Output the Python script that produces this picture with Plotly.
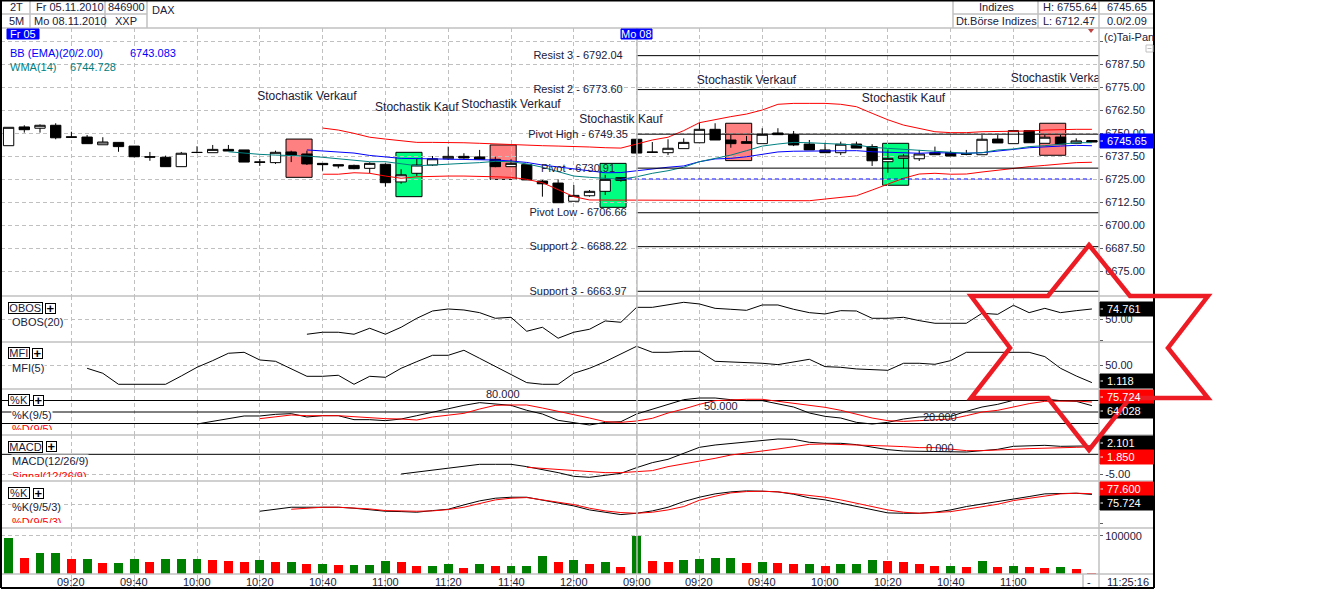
import plotly.graph_objects as go

# --- data ---
opens = [6743.1, 6753.3, 6752.6, 6754.2, 6747.9, 6747.8, 6743.6, 6744.9, 6742.9, 6737.1,
         6736.8, 6731.7, 6739.5, 6739.3, 6741.1, 6740.8, 6734.3, 6733.9, 6739.7, 6738.6,
         6733.5, 6732.8, 6732.4, 6730.8, 6733.0, 6723.4, 6728.1, 6732.6, 6736.0, 6737.3,
         6737.0, 6735.7, 6731.7, 6732.8, 6723.9, 6722.8, 6712.9, 6715.9, 6718.3, 6725.7,
         6746.6, 6739.7, 6739.3, 6741.5, 6744.7, 6752.0, 6746.2, 6745.3, 6744.2, 6750.0,
         6749.1, 6744.0, 6740.8, 6739.3, 6744.0, 6742.6, 6734.4, 6736.2, 6736.0, 6739.3,
         6739.3, 6738.7, 6738.2, 6746.7, 6744.2, 6751.3, 6744.4, 6747.8, 6744.4, 6745.9]
highs = [6753.1, 6754.2, 6754.7, 6755.3, 6750.7, 6748.9, 6747.7, 6744.9, 6742.9, 6739.7,
         6737.7, 6739.7, 6742.8, 6743.5, 6743.5, 6740.8, 6735.9, 6740.4, 6740.4, 6740.4,
         6733.5, 6732.8, 6732.8, 6734.1, 6733.5, 6730.3, 6736.2, 6737.5, 6742.6, 6739.0,
         6740.8, 6737.1, 6735.7, 6732.8, 6724.5, 6724.8, 6721.7, 6719.0, 6727.3, 6725.7,
         6747.1, 6745.1, 6746.6, 6747.1, 6755.6, 6755.3, 6748.9, 6748.4, 6752.6, 6752.6,
         6751.1, 6746.2, 6744.7, 6745.3, 6745.3, 6743.9, 6741.1, 6738.6, 6740.8, 6742.6,
         6740.4, 6740.8, 6748.9, 6748.9, 6751.3, 6751.3, 6748.9, 6748.9, 6747.1, 6745.9]
lows = [6743.1, 6750.2, 6750.2, 6746.6, 6747.4, 6744.2, 6743.6, 6739.8, 6736.8, 6734.9,
        6731.7, 6731.7, 6739.0, 6739.3, 6740.2, 6734.2, 6732.1, 6733.2, 6734.2, 6732.6,
        6729.5, 6730.8, 6730.3, 6728.1, 6720.8, 6722.4, 6726.6, 6732.1, 6735.3, 6736.0,
        6735.7, 6731.4, 6731.7, 6724.5, 6715.4, 6712.1, 6712.9, 6715.4, 6716.3, 6723.5,
        6738.2, 6739.4, 6738.0, 6741.5, 6744.7, 6746.2, 6742.0, 6744.4, 6744.2, 6749.1,
        6742.9, 6740.8, 6739.3, 6738.0, 6741.8, 6732.1, 6728.4, 6730.8, 6734.8, 6738.2,
        6737.5, 6737.9, 6738.2, 6744.6, 6744.2, 6744.7, 6744.4, 6744.0, 6744.4, 6745.1]
closes = [6753.1, 6751.8, 6754.2, 6747.4, 6747.7, 6744.2, 6745.1, 6742.6, 6737.1, 6736.9,
          6731.7, 6739.0, 6739.4, 6741.1, 6740.2, 6734.2, 6734.1, 6739.5, 6737.9, 6733.2,
          6732.8, 6732.1, 6730.6, 6733.5, 6723.0, 6727.3, 6732.6, 6736.0, 6737.3, 6736.4,
          6735.7, 6731.7, 6733.5, 6724.5, 6722.4, 6712.1, 6716.1, 6718.3, 6724.8, 6724.3,
          6739.1, 6739.5, 6741.7, 6744.9, 6752.0, 6746.2, 6744.2, 6744.4, 6749.3, 6749.1,
          6743.5, 6740.8, 6739.3, 6743.9, 6741.8, 6734.9, 6736.2, 6737.5, 6738.6, 6738.2,
          6737.5, 6738.5, 6746.6, 6744.6, 6751.3, 6744.7, 6747.7, 6744.0, 6745.7, 6745.1]

bb_upper = [6752.7, 6751.6, 6749.8, 6747.7, 6746.7, 6746.0, 6744.9, 6744.9, 6744.9, 6744.7,
            6744.4, 6744.0, 6744.0, 6743.6, 6743.1, 6742.9, 6742.8, 6742.4, 6742.0, 6741.8,
            6744.0, 6746.2, 6747.7, 6751.3, 6755.6, 6757.4, 6758.9, 6760.3, 6762.5, 6765.6,
            6766.1, 6766.1, 6766.1, 6765.6, 6764.3, 6760.7, 6757.2, 6754.3, 6752.6, 6750.7,
            6750.2, 6750.2, 6750.7, 6750.7, 6750.7, 6751.1, 6751.6, 6752.0, 6752.0, 6752.0]
bb_mid = [6740.8, 6740.2, 6739.7, 6739.1, 6737.8, 6737.0, 6736.2, 6736.1, 6736.0, 6735.9,
          6735.7, 6735.5, 6735.3, 6734.8, 6734.0, 6732.6, 6731.5, 6730.3, 6729.3, 6728.4,
          6728.5, 6729.6, 6730.4, 6731.4, 6732.1, 6734.4, 6735.9, 6736.2, 6737.1, 6738.6,
          6739.7, 6740.1, 6740.2, 6740.2, 6740.4, 6740.4, 6739.8, 6739.5, 6739.1, 6739.0,
          6739.3, 6739.0, 6739.0, 6739.3, 6740.4, 6741.1, 6742.0, 6742.6, 6742.9, 6743.3,
          6743.08]
bb_lower = [6727.6, 6727.6, 6728.4, 6728.1, 6726.6, 6725.4, 6726.2, 6726.6, 6726.6, 6726.6,
            6726.2, 6726.2, 6725.9, 6724.8, 6723.0, 6719.0, 6715.4, 6713.6, 6713.6, 6713.6,
            6713.6, 6713.6, 6713.6, 6713.6, 6713.2, 6713.2, 6713.2, 6713.2, 6713.2, 6713.2,
            6713.2, 6713.2, 6714.1, 6715.0, 6715.9, 6719.0, 6722.3, 6725.4, 6727.7, 6728.1,
            6727.6, 6727.7, 6728.8, 6729.9, 6730.8, 6731.7, 6732.4, 6733.2, 6733.9, 6734.1]
wma = [6739.8, 6739.0, 6738.4, 6738.0, 6737.9, 6737.5, 6736.8, 6735.9, 6735.3, 6734.4,
       6734.4, 6733.5, 6732.2, 6732.6, 6733.2, 6733.5, 6733.9, 6734.6, 6734.4, 6733.2,
       6731.4, 6729.0, 6726.6, 6725.9, 6725.2, 6724.8, 6726.2, 6728.1, 6729.5, 6731.4,
       6734.4, 6736.2, 6738.0, 6740.4, 6742.9, 6744.0, 6744.9, 6744.7, 6744.4, 6744.0,
       6743.5, 6742.2, 6741.7, 6740.8, 6740.4, 6739.8, 6739.3, 6739.0, 6739.3, 6740.8,
       6741.3, 6742.6, 6743.1, 6744.0, 6744.7, 6744.73]

obos = [13.9, 18.7, 18.7, 13.9, 28.3, 13.9, 30.7, 52.3, 69.9, 74.7, 72.3, 65.9, 52.3, 54.7,
        21.1, 30.7, 4.3, 18.7, 25.9, 45.9, 42.7, 78.7, 78.7, 84.4, 90.8, 86.8, 76.3, 74.0,
        71.5, 84.4, 84.4, 74.0, 65.9, 62.7, 70.7, 69.9, 52.3, 52.3, 54.7, 46.7, 40.3, 40.3,
        40.3, 64.3, 61.9, 83.6, 65.9, 76.3, 65.9, 70.7, 74.76]
mfi = [42.1, 29.0, 0, 0, 0, 0, 21.9, 44.7, 62.3, 81.6, 84.2, 64.0, 60.5, 40.4, 21.0, 21.0,
       23.7, 0, 21.0, 18.4, 42.1, 59.6, 76.3, 76.3, 89.5, 68.4, 46.5, 26.3, 4.4, 0, 0, 29.0,
       42.1, 59.6, 79.8, 100, 84.2, 84.2, 86.8, 86.8, 60.5, 58.8, 57.9, 55.3, 51.8, 58.8,
       65.8, 46.5, 44.7, 40.4, 37.7, 36.8, 55.3, 55.3, 52.6, 62.3, 84.2, 84.2, 84.2, 84.2,
       84.2, 72.8, 42.1, 21.9, 4.4]
k_fast = [18.7, 25.6, 34.3, 39.6, 39.6, 43.9, 45.7, 37.0, 40.4, 40.4, 30.0, 30.0, 27.4, 31.7,
          40.4, 50.0, 57.8, 67.4, 74.4, 70.9, 67.4, 54.4, 44.8, 28.3, 21.3, 16.1, 23.0, 24.8,
          44.8, 57.8, 70.9, 82.2, 86.5, 86.5, 82.2, 79.6, 79.6, 71.8, 63.0, 47.4, 38.7, 34.3,
          23.0, 18.7, 23.0, 31.7, 37.0, 38.7, 38.7, 51.7, 63.0, 70.0, 80.5, 82.2, 83.9, 79.6,
          77.8, 66.5]
d_fast = [32.6, 37.0, 42.2, 40.4, 40.4, 40.4, 37.8, 34.3, 32.6, 31.7, 29.1, 37.0, 42.2, 46.5,
          57.8, 67.4, 68.3, 68.3, 60.4, 50.9, 43.0, 34.3, 24.8, 23.0, 26.5, 33.5, 47.4, 57.8,
          70.0, 79.6, 82.2, 83.1, 83.1, 77.8, 71.8, 67.4, 62.2, 54.4, 44.8, 34.3, 27.4, 25.6,
          27.4, 30.0, 31.7, 40.4, 50.0, 54.4, 63.0, 71.8, 77.8, 78.7, 78.7, 76.0]
macd = [-4.92, -4.42, -4.0, -3.33, -2.83, -2.5, -2.5, -2.5, -3.08, -3.75, -4.58, -5.5, -5.75,
        -5.25, -4.75, -3.33, -2.08, -1.25, 0.25, 1.75, 2.33, 2.75, 3.17, 3.58, 3.83, 3.75,
        3.0, 2.75, 2.75, 2.42, 1.75, 1.17, 0.83, 0.75, 0.75, 0.75, 0.58, 0.92, 1.25, 2.0,
        2.08, 2.25, 2.0, 2.0, 2.1]
signal = [-3.25, -3.5, -3.75, -4.17, -4.25, -4.58, -4.58, -4.25, -4.08, -3.08, -2.42, -1.67,
          -1.0, -0.17, 0.25, 0.83, 1.33, 1.92, 2.5, 2.58, 2.5, 2.42, 2.17, 2.08, 1.92, 1.67,
          1.67, 1.25, 0.92, 0.92, 1.0, 1.25, 1.42, 1.58, 1.75, 1.75, 1.85]
k_slow = [31.6, 37.7, 42.1, 42.1, 42.1, 42.1, 39.5, 36.0, 31.6, 30.7, 29.0, 33.3, 36.8, 48.2,
          58.8, 65.8, 68.4, 68.4, 61.4, 54.4, 45.6, 35.1, 28.1, 22.8, 26.3, 32.5, 42.1, 57.0,
          68.4, 77.2, 82.4, 85.1, 84.2, 82.4, 76.3, 66.7, 61.4, 52.6, 43.9, 35.1, 27.2, 26.3,
          26.3, 29.0, 35.1, 43.9, 50.0, 57.0, 63.2, 70.2, 77.2, 78.9, 78.9, 75.7]
d_slow = [36.8, 40.4, 42.1, 42.1, 40.4, 37.7, 33.3, 31.6, 31.6, 32.5, 36.0, 42.1, 52.6, 61.4,
          65.8, 67.5, 61.4, 54.4, 49.1, 39.5, 32.5, 28.1, 26.3, 29.0, 35.1, 43.9, 60.5, 71.0,
          79.8, 83.3, 84.2, 82.4, 78.1, 73.7, 68.4, 61.4, 52.6, 43.9, 35.1, 29.0, 26.3, 28.1,
          30.7, 36.8, 43.9, 50.0, 59.6, 65.8, 72.8, 77.2, 78.9, 77.6]
volumes = [93900, 41700, 54800, 54800, 39100, 39100, 28700, 28700, 39100, 31300,
           39100, 39100, 39100, 36500, 33900, 31300, 36500, 31300, 31300, 26100,
           26100, 23500, 23500, 23500, 33900, 31300, 20900, 20900, 26100, 15700,
           26100, 20900, 20900, 20900, 47000, 31300, 36500, 26100, 31300, 18300,
           100000, 33900, 31300, 36500, 39100, 41700, 41700, 28700, 31300, 28700,
           26100, 26100, 20900, 26100, 26100, 36500, 33900, 31300, 26100, 20900,
           20900, 18300, 33900, 18300, 20900, 18300, 15700, 18300, 13000, 2600]
volume_sides = "grggrgrggrgggrrrgrgrgrgggrrggrgrgggrgrgrgrrggggrgrrgrgggrrrrgrgrgrrgrr"

signal_bars = [19, 26, 32, 39, 47, 57, 67]
signal_kinds = ["Stochastik Verkauf", "Stochastik Kauf", "Stochastik Verkauf", "Stochastik Kauf",
                "Stochastik Verkauf", "Stochastik Kauf", "Stochastik Verkauf"]
signal_text_y = [6769.5, 6763.5, 6765.2, 6757.0, 6778.2, 6768.4, 6779.3]
signal_box_hi = [6746.7, 6739.5, 6743.5, 6733.5, 6755.3, 6744.4, 6755.3]
signal_box_lo = [6725.9, 6715.4, 6724.8, 6709.6, 6735.0, 6721.6, 6737.9]

pivot_names = ["Resist 3", "Resist 2", "Pivot High", "Pivot", "Pivot Low", "Support 2", "Support 3"]
pivot_values = [6792.04, 6773.60, 6749.35, 6730.91, 6706.66, 6688.22, 6663.97]

time_bars = [4, 8, 12, 16, 20, 24, 28, 32, 36, 40, 44, 48, 52, 56, 60, 64]
time_labels = ["09:20", "09:40", "10:00", "10:20", "10:40", "11:00", "11:20", "11:40", "12:00",
               "09:00", "09:20", "09:40", "10:00", "10:20", "10:40", "11:00"]
price_ticks = [6675, 6687.5, 6700, 6712.5, 6725, 6737.5, 6750, 6762.5, 6775, 6787.5, 6800]

# panel limits in pixels of the 1323x589 page
W, H = 1323, 589
PANELS = [28, 296, 342, 389, 435, 481, 528, 574]
LEFT, AXIS, RIGHT = 1, 1099, 1154
GRID = "#c0c0c0"
TEXT = "#20203a"
FONT = "Liberation Sans"


def xp(px):
    return px / W


def yp(px):
    return 1 - px / H


def from_bar(values, start):
    return list(range(start, start + len(values))), values


def line(values, start, color, yaxis="y"):
    x, y = from_bar(values, start)
    return go.Scatter(x=x, y=y, mode="lines", line={"color": color, "width": 1}, yaxis=yaxis,
                      hoverinfo="skip")


n_bars = len(closes)
fig = go.Figure()

fig.add_trace(go.Candlestick(
    x=list(range(n_bars)), open=opens, high=highs, low=lows, close=closes,
    whiskerwidth=0,
    increasing={"line": {"color": "black", "width": 1}, "fillcolor": "white"},
    decreasing={"line": {"color": "black", "width": 1}, "fillcolor": "black"},
))
fig.add_trace(line(bb_upper, 20, "#ff0000"))
fig.add_trace(line(bb_lower, 20, "#ff0000"))
fig.add_trace(line(bb_mid, 19, "#0000ff"))
fig.add_trace(line(wma, 14, "#008080"))

for value in pivot_values:
    fig.add_trace(go.Scatter(x=[40, 69.45], y=[value, value], mode="lines",
                             line={"color": "black", "width": 1}, hoverinfo="skip"))
fig.add_trace(go.Scatter(x=[39, 69], y=[6725, 6725], mode="lines",
                         line={"color": "#0000ff", "width": 1, "dash": "4px,3px"}, hoverinfo="skip"))

fig.add_trace(go.Scatter(
    x=[36.27] * len(pivot_values), y=[v - 0.5 for v in pivot_values], mode="text",
    text=[f"{n} - {v:.2f}" for n, v in zip(pivot_names, pivot_values)],
    textposition="middle center", textfont={"family": FONT, "size": 11, "color": TEXT},
    cliponaxis=True, hoverinfo="skip",
))
fig.add_trace(go.Scatter(
    x=signal_bars, y=signal_text_y, mode="text", text=signal_kinds,
    textposition="middle center", textfont={"family": FONT, "size": 12, "color": TEXT},
    cliponaxis=True, hoverinfo="skip",
))

fig.add_trace(line(obos, 19, "black", "y2"))
fig.add_trace(line(mfi, 5, "black", "y3"))

for level in [80, 50, 20]:
    fig.add_trace(go.Scatter(x=[-0.48, 69.45], y=[level, level], mode="lines", yaxis="y4",
                             line={"color": "black", "width": 1}, hoverinfo="skip"))
fig.add_trace(line(k_fast, 12, "black", "y4"))
fig.add_trace(line(d_fast, 16, "#ff0000", "y4"))

fig.add_trace(go.Scatter(x=[-0.48, 69.45], y=[0, 0], mode="lines", yaxis="y5",
                         line={"color": "black", "width": 1}, hoverinfo="skip"))
fig.add_trace(line(macd, 25, "black", "y5"))
fig.add_trace(line(signal, 33, "#ff0000", "y5"))

fig.add_trace(line(k_slow, 16, "black", "y6"))
fig.add_trace(line(d_slow, 18, "#ff0000", "y6"))

fig.add_trace(go.Bar(
    x=list(range(n_bars)), y=volumes, yaxis="y7", width=0.57,
    marker={"color": ["#008000" if s == "g" else "#ff0000" for s in volume_sides], "line": {"width": 0}},
    hoverinfo="skip",
))


def y_axis(panel, rng, ticks, labels=None, minor=None):
    axis = {
        "domain": [yp(PANELS[panel + 1]), yp(PANELS[panel])],
        "range": rng,
        "anchor": "x",
        "side": "right",
        "tickmode": "array",
        "tickvals": ticks,
        "ticktext": labels if labels is not None else ["" for _ in ticks],
        "ticks": "outside" if ticks else "",
        "ticklen": 3,
        "tickcolor": "#606060",
        "tickfont": {"family": FONT, "size": 11, "color": TEXT},
        "showgrid": True,
        "gridcolor": GRID,
        "griddash": "4px,3px",
        "gridwidth": 1,
        "zeroline": False,
        "showline": False,
    }
    if minor:
        axis["minor"] = {"tickmode": "array", "tickvals": minor, "ticks": "outside", "ticklen": 3,
                         "tickcolor": "#606060", "showgrid": False}
    return axis


# ----- chrome: header cells, separators, value boxes, star -----
shapes = []


def hline(y, x0=LEFT, x1=RIGHT, color=GRID, width=1.5):
    shapes.append({"type": "line", "xref": "paper", "yref": "paper", "x0": xp(x0), "x1": xp(x1),
                   "y0": yp(y), "y1": yp(y), "line": {"color": color, "width": width}})


def vline(x, y0, y1, color=GRID, width=1.5):
    shapes.append({"type": "line", "xref": "paper", "yref": "paper", "x0": xp(x), "x1": xp(x),
                   "y0": yp(y0), "y1": yp(y1), "line": {"color": color, "width": width}})


def rect(x0, y0, x1, y1, fill, border=None):
    shapes.append({"type": "rect", "xref": "paper", "yref": "paper", "x0": xp(x0), "x1": xp(x1),
                   "y0": yp(y0), "y1": yp(y1), "fillcolor": fill,
                   "line": {"color": border or fill, "width": 1}})


# signal boxes sit under the candles
for bar, hi, lo, kind in zip(signal_bars, signal_box_hi, signal_box_lo, signal_kinds):
    shapes.append({"type": "rect", "xref": "x", "yref": "y", "x0": bar - 1.33, "x1": bar + 0.33,
                   "y0": lo, "y1": hi, "layer": "below",
                   "fillcolor": "#ff8080" if "Verkauf" in kind else "#00ff80",
                   "line": {"color": "black", "width": 1}})

for y in PANELS[1:]:
    hline(y)
hline(14, LEFT, 147)
hline(14, 953, AXIS + 55)
hline(28)
vline(30, 0, 28)
vline(105, 0, 28)
vline(147, 0, 28)
vline(953, 0, 28)
vline(1038, 0, 28)
vline(AXIS, 0, 588)
vline(637, 28, 574)
vline(1083, 574, 588)
hline(0.5, color="black", width=2)
hline(588, color="black", width=2)
vline(1, 0, 588, color="black", width=2)
vline(RIGHT, 0, 588, color="black", width=2)

rect(7, 29, 39, 39, "#0000ff")
rect(621, 29, 652, 39, "#0000ff")
rect(1146, 45, 1153, 52, "white", GRID)
hline(48.5, 1147.5, 1151.5, color=GRID, width=1)

value_boxes = [("6745.65", "#0000ff", 134), ("74.761", "black", 302), ("1.118", "black", 374),
               ("75.724", "#ff0000", 390), ("64.028", "black", 404), ("2.101", "black", 436),
               ("1.850", "#ff0000", 450), ("77.600", "#ff0000", 482), ("75.724", "black", 496)]
for _, color, top in value_boxes:
    rect(1100, top, RIGHT - 0.5, top + 14, color)
    hline(top + 7, 1100.5, 1103, color="white", width=1)

star = [(1089, 245), (1130, 296), (1208, 296), (1168, 348), (1208, 398), (1130, 398),
        (1089, 450), (1048, 398), (971, 398), (1010, 348), (971, 296), (1048, 296)]
path = "M " + " L ".join(f"{xp(x):.5f} {yp(y):.5f}" for x, y in star) + " Z"
shapes.append({"type": "path", "xref": "paper", "yref": "paper", "path": path,
               "line": {"color": "#ed1c24", "width": 4.5}})
marker_tri = [(1088, 29), (1094, 29), (1091, 33)]
shapes.append({"type": "path", "xref": "paper", "yref": "paper", "fillcolor": "#c04040",
               "path": "M " + " L ".join(f"{xp(x):.5f} {yp(y):.5f}" for x, y in marker_tri) + " Z",
               "line": {"width": 0}})

annotations = []


def label(text, x, y, color=TEXT, size=11, anchor="left", **kw):
    annotations.append({"text": text, "xref": "paper", "yref": "paper", "x": xp(x), "y": yp(y),
                        "xanchor": anchor, "yanchor": "middle", "showarrow": False,
                        "font": {"family": FONT, "size": size, "color": color}, **kw})


# header
label("2T", 16, 7, anchor="center")
label("5M", 16, 21, anchor="center")
label("Fr 05.11.2010", 34, 7)
label("Mo 08.11.2010", 32, 21)
label("846900", 126, 7, anchor="center")
label("XXP", 126, 21, anchor="center")
label("DAX", 150, 10)
label("Indizes", 996, 7, anchor="center")
label("Dt.Börse Indizes", 996, 21, anchor="center")
label("H: 6755.64", 1041, 7)
label("L: 6712.47", 1041, 21)
label("6745.65", 1105, 7)
label("0.0/2.09", 1105, 21)
label("(c)Tai-Pan", 1102, 37)
label("Fr 05", 23, 34, color="white", anchor="center")
label("Mo 08", 636, 34, color="white", anchor="center")

# indicator names
label("BB (EMA)(20/2.00)", 8, 53, color="#0000ff")
label("6743.083", 128, 53, color="#0000ff")
label("WMA(14)", 8, 67, color="#008080")
label("6744.728", 68, 67, color="#008080")
for name, x1, top in [("OBOS", 42.5, 302), ("MFI", 29.5, 347), ("%K", 30, 394),
                      ("MACD", 43, 441), ("%K", 30, 487)]:
    label(name, (8 + x1) / 2, top + 6, anchor="center", bgcolor="white", bordercolor="black",
          borderwidth=1, width=x1 - 10, height=10, borderpad=0)
    label("<b>+</b>", x1 + 8, top + 6, color="black", size=13, anchor="center", bgcolor="white",
          bordercolor="black", borderwidth=1, width=9, height=9, borderpad=0)
label("OBOS(20)", 11, 322, bgcolor="white", borderpad=0)
label("MFI(5)", 11, 368, bgcolor="white", borderpad=0)
label("%K(9/5)", 11, 415, bgcolor="white", borderpad=0)
label("MACD(12/26/9)", 11, 461, bgcolor="white", borderpad=0)
label("%K(9/5/3)", 11, 507, bgcolor="white", borderpad=0)
# the red names are cut off by the pane in the original, a short text box clips them
label("%D(9/5)", 11, 426.5, color="#ff0000", height=7, valign="top", borderpad=0)
label("Signal(12/26/9)", 11, 473.5, color="#ff0000", height=7, valign="top", borderpad=0)
label("%D(9/5/3)", 11, 519.5, color="#ff0000", height=7, valign="top", borderpad=0)

# last values
for text, _, top in value_boxes:
    label(text, 1105, top + 7, color="white")

# time axis text, the grid line runs through the colon
for bar, text in zip(time_bars, time_labels):
    annotations.append({"text": text, "xref": "x", "yref": "paper", "x": bar, "y": yp(582),
                        "xanchor": "center", "yanchor": "middle", "showarrow": False,
                        "font": {"family": FONT, "size": 11, "color": TEXT}})
label("-", 1089, 582, anchor="center")
label("11:25:16", 1105, 582)

# level captions in the %K and MACD panes
for text, x, y, ref in [("80.000", 31.5, 97, "y4"), ("50.000", 45.4, 65.7, "y4"),
                        ("20.000", 59.3, 37, "y4"), ("0.000", 59.3, 1.6, "y5")]:
    annotations.append({"text": text, "xref": "x", "yref": ref, "x": x, "y": y,
                        "xanchor": "center", "yanchor": "middle", "showarrow": False,
                        "font": {"family": FONT, "size": 11, "color": TEXT}})

fig.update_layout(
    width=W,
    height=H,
    margin={"l": 0, "r": 0, "t": 0, "b": 0},
    autosize=False,
    showlegend=False,
    plot_bgcolor="white",
    paper_bgcolor="white",
    bargap=0,
    boxgap=0.06,
    hovermode=False,
    shapes=shapes,
    annotations=annotations,
    xaxis={
        "domain": [xp(LEFT), xp(AXIS)],
        "range": [-0.484, 69.45],
        "anchor": "y7",
        "rangeslider": {"visible": False},
        "tickmode": "array",
        "tickvals": time_bars,
        "ticktext": ["" for _ in time_bars],
        "ticks": "outside",
        "ticklen": 14,
        "tickcolor": GRID,
        "showgrid": True,
        "gridcolor": GRID,
        "griddash": "4px,3px",
        "zeroline": False,
    },
    yaxis=y_axis(0, [6661.41, 6807.07], price_ticks,
                 [f"{v:.2f}" for v in price_ticks[:-1]] + [""]),
    yaxis2=y_axis(1, [-4.8, 106], [50], ["50.00"], minor=[0]),
    yaxis3=y_axis(2, [-12.4, 111.3], [50], ["50.00"]),
    yaxis4=y_axis(3, [-10, 110], []),
    yaxis5=y_axis(4, [-6.67, 4.83], [-5], ["-5.00"]),
    yaxis6=y_axis(5, [-12.4, 111], [50], [""], minor=[0]),
    yaxis7=y_axis(6, [0, 120100], [100000], ["100000"]),
)

fig.write_html("out.html", config={"displayModeBar": False},
               post_script="document.body.style.margin='0';document.body.style.overflow='hidden';")
